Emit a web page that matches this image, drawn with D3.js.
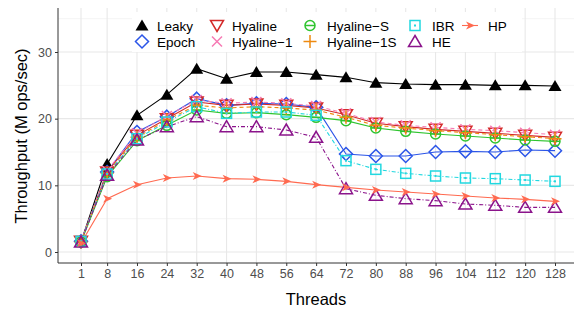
<!DOCTYPE html>
<html>
<head>
<meta charset="utf-8">
<script src="https://cdn.jsdelivr.net/npm/d3@7"></script>
<style>
  body { margin: 0; background: #fff; }
  svg { font-family: "Liberation Sans", Arial, sans-serif; }
</style>
</head>
<body>
<svg width="574" height="312"></svg>
<script>
// thread counts on the x axis
const threads = [1, 8, 16, 24, 32, 40, 48, 56, 64, 72, 80, 88, 96, 104, 112, 120, 128];
const yTicks = [0, 10, 20, 30];

// throughput per scheme (M ops/sec)
const leaky     = [1.5, 13.2, 20.5, 23.6, 27.5, 26.0, 27.0, 27.0, 26.6, 26.2, 25.4, 25.2, 25.1, 25.1, 25.0, 25.0, 24.9];
const epoch     = [1.6, 12.0, 18.0, 20.3, 23.0, 22.0, 22.3, 22.2, 21.7, 14.7, 14.4, 14.4, 15.0, 15.1, 15.0, 15.3, 15.2];
const hyaline   = [1.6, 12.0, 17.5, 20.0, 22.5, 22.0, 22.2, 22.0, 21.6, 20.6, 19.3, 18.8, 18.4, 18.1, 17.8, 17.5, 17.2];
const hyaline1  = [1.6, 12.2, 17.8, 20.4, 22.8, 22.3, 22.5, 22.3, 21.9, 20.8, 19.5, 19.0, 18.7, 18.4, 18.2, 17.9, 17.6];
const hyalineS  = [1.5, 11.3, 16.7, 19.0, 21.3, 20.8, 20.9, 20.6, 20.2, 19.7, 18.6, 18.1, 17.7, 17.4, 17.1, 16.8, 16.6];
const hyaline1S = [1.5, 11.8, 17.2, 19.8, 22.0, 21.6, 21.8, 21.6, 21.3, 20.2, 19.0, 18.6, 18.2, 17.9, 17.6, 17.3, 17.0];
const ibr       = [1.6, 11.7, 17.0, 19.5, 21.8, 20.8, 21.0, 21.0, 20.5, 13.7, 12.4, 11.8, 11.4, 11.1, 11.0, 10.8, 10.6];
const he        = [1.5, 11.5, 16.8, 18.8, 20.3, 18.8, 18.8, 18.3, 17.2,  9.5,  8.5,  8.0,  7.7,  7.2,  7.0,  6.7,  6.7];
const hp        = [1.3,  8.0, 10.1, 11.1, 11.4, 11.0, 10.9, 10.6, 10.1,  9.7,  9.3,  9.0,  8.7,  8.4,  8.1,  7.9,  7.6];

const series = [
  {name: "Leaky",      values: leaky,     color: "#000000", dash: null,        shape: "triFill"},
  {name: "Epoch",      values: epoch,     color: "#2b55e8", dash: null,        shape: "diamond"},
  {name: "Hyaline",    values: hyaline,   color: "#d42a2a", dash: null,        shape: "triDown"},
  {name: "Hyaline-1",  values: hyaline1,  color: "#f77ab4", dash: "4,3",       shape: "cross"},
  {name: "Hyaline-S",  values: hyalineS,  color: "#2fc42f", dash: null,        shape: "circleMinus"},
  {name: "Hyaline-1S", values: hyaline1S, color: "#ee8a10", dash: "4,3",       shape: "plus"},
  {name: "IBR",        values: ibr,       color: "#22d8e0", dash: "1,2,4,2",   shape: "square"},
  {name: "HE",         values: he,        color: "#8b148b", dash: "1,2,4,2",   shape: "triUp"},
  {name: "HP",         values: hp,        color: "#ff6a50", dash: null,        shape: "arrow"}
];

const svg = d3.select("svg");
const panel = {left: 58, top: 8, right: 574, bottom: 263};

const x = d3.scaleLinear().domain([1, 128]).range([81, 555]);
const y = d3.scaleLinear().domain([0, 30]).range([252, 52]);

// gridlines
const grid = svg.append("g");
[5, 15, 25, 35].forEach(v => {
  grid.append("line")
    .attr("x1", panel.left).attr("x2", panel.right)
    .attr("y1", y(v)).attr("y2", y(v))
    .attr("stroke", "#f2f2f2").attr("stroke-width", 0.8);
});
yTicks.forEach(v => {
  grid.append("line")
    .attr("x1", panel.left).attr("x2", panel.right)
    .attr("y1", y(v)).attr("y2", y(v))
    .attr("stroke", "#e8e8e8").attr("stroke-width", 1.1);
});
threads.forEach(t => {
  grid.append("line")
    .attr("x1", x(t)).attr("x2", x(t))
    .attr("y1", panel.top).attr("y2", panel.bottom)
    .attr("stroke", "#e8e8e8").attr("stroke-width", 1.1);
});

// axes
const xAxis = svg.append("g")
  .attr("transform", `translate(0,${panel.bottom})`)
  .call(d3.axisBottom(x).tickValues(threads).tickSize(3).tickPadding(3));
const yAxis = svg.append("g")
  .attr("transform", `translate(${panel.left},0)`)
  .call(d3.axisLeft(y).tickValues(yTicks).tickSize(3).tickPadding(3));
[xAxis, yAxis].forEach(a => {
  a.select(".domain").remove();
  a.selectAll(".tick line").attr("stroke", "#333");
  a.selectAll(".tick text").attr("fill", "#4d4d4d").style("font-size", "12.5px")
    .style("font-family", "Liberation Sans, Arial, sans-serif");
});
svg.append("line")
  .attr("x1", panel.left).attr("x2", panel.left)
  .attr("y1", panel.top).attr("y2", panel.bottom)
  .attr("stroke", "#333").attr("stroke-width", 1);
svg.append("line")
  .attr("x1", panel.left).attr("x2", panel.right)
  .attr("y1", panel.bottom).attr("y2", panel.bottom)
  .attr("stroke", "#333").attr("stroke-width", 1);

// axis titles
svg.append("text")
  .attr("x", 316).attr("y", 305)
  .attr("text-anchor", "middle")
  .style("font-size", "16.5px").attr("fill", "#000")
  .text("Threads");
svg.append("text")
  .attr("transform", "translate(27,136) rotate(-90)")
  .attr("text-anchor", "middle")
  .style("font-size", "16.5px").attr("fill", "#000")
  .text("Throughput (M ops/sec)");

// marker drawing
function drawShape(g, shape, color) {
  const sw = 1.5;
  switch (shape) {
    case "triFill":
      g.append("path").attr("d", "M0,-6L6.5,5L-6.5,5Z").attr("fill", color);
      break;
    case "triUp":
      g.append("path").attr("d", "M0,-6L6.5,5L-6.5,5Z").attr("fill", "none")
        .attr("stroke", color).attr("stroke-width", sw);
      break;
    case "triDown":
      g.append("path").attr("d", "M0,6L6.5,-5L-6.5,-5Z").attr("fill", "none")
        .attr("stroke", color).attr("stroke-width", sw);
      break;
    case "diamond":
      g.append("path").attr("d", "M0,-6.5L6.5,0L0,6.5L-6.5,0Z").attr("fill", "none")
        .attr("stroke", color).attr("stroke-width", sw);
      break;
    case "cross":
      g.append("path").attr("d", "M-5,-5L5,5M-5,5L5,-5").attr("fill", "none")
        .attr("stroke", color).attr("stroke-width", sw);
      break;
    case "plus":
      g.append("path").attr("d", "M-6.5,0L6.5,0M0,-6.5L0,6.5").attr("fill", "none")
        .attr("stroke", color).attr("stroke-width", sw);
      break;
    case "circleMinus":
      g.append("circle").attr("r", 5).attr("fill", "none")
        .attr("stroke", color).attr("stroke-width", sw);
      g.append("path").attr("d", "M-5,0L5,0").attr("stroke", color).attr("stroke-width", sw);
      break;
    case "square":
      g.append("rect").attr("x", -5).attr("y", -5).attr("width", 10).attr("height", 10)
        .attr("fill", "none").attr("stroke", color).attr("stroke-width", sw);
      g.append("rect").attr("x", -1).attr("y", -1).attr("width", 2).attr("height", 2)
        .attr("fill", color);
      break;
    case "arrow":
      g.append("path").attr("d", "M5,0L-4,-4L-1.5,0L-4,4Z").attr("fill", color);
      break;
  }
}

// lines and points
const line = d3.line().x((d, i) => x(threads[i])).y(d => y(d));
const plot = svg.append("g");
series.forEach(s => {
  plot.append("path")
    .datum(s.values)
    .attr("d", line)
    .attr("fill", "none")
    .attr("stroke", s.color)
    .attr("stroke-width", 1.1)
    .attr("stroke-dasharray", s.dash);
});
series.forEach(s => {
  s.values.forEach((v, i) => {
    const g = plot.append("g").attr("transform", `translate(${x(threads[i])},${y(v)})`);
    drawShape(g, s.shape, s.color);
  });
});

// legend
const legend = svg.append("g");
legend.append("rect")
  .attr("x", 132).attr("y", 12).attr("width", 390).attr("height", 40)
  .attr("fill", "#fff");
const colX = [142, 217, 310, 415, 470];
const colTextX = [157, 232, 327, 432, 488];
const rowY = [25.5, 41.5];
const layout = [[0, 0], [0, 1], [1, 0], [1, 1], [2, 0], [2, 1], [3, 0], [3, 1], [4, 0]];
series.forEach((s, i) => {
  const [c, r] = layout[i];
  const g = legend.append("g").attr("transform", `translate(${colX[c]},${rowY[r]})`);
  if (s.shape === "arrow") {
    g.append("line").attr("x1", -8).attr("x2", 8).attr("stroke", s.color).attr("stroke-width", 1.1);
  }
  drawShape(g, s.shape, s.color);
  legend.append("text")
    .attr("x", colTextX[c]).attr("y", rowY[r] + 5)
    .style("font-size", "13.5px").attr("fill", "#000")
    .text(s.name.replace("-", "\u2212"));
});
</script>
</body>
</html>
